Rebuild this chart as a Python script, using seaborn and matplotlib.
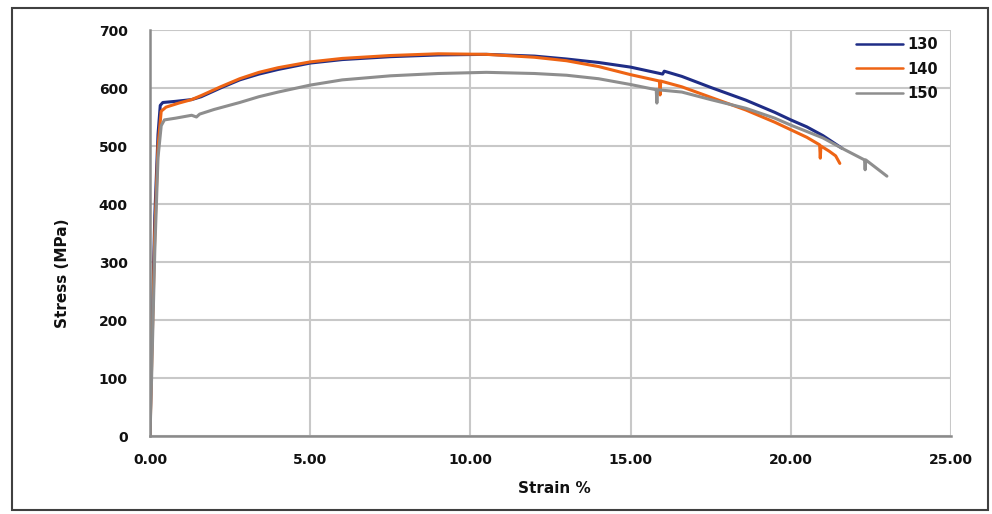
import pandas as pd
import matplotlib.pyplot as plt
import seaborn as sns
from matplotlib.patches import Rectangle

# Strain (%) and stress (MPa)
strain_130 = [0, 0.05, 0.15, 0.25, 0.32, 0.4, 0.8, 1.3, 1.6, 2.2, 2.8, 3.4, 4.0, 5.0, 6.0, 7.5, 9.0,
              10.5, 12.0, 13.0, 14.0, 15.0, 16.0, 16.05, 16.6, 17.5, 18.6, 19.5, 20.0, 20.5,
              21.0, 21.6]
stress_130 = [0, 150, 380, 520, 570, 575, 577, 580, 585, 600, 614, 624, 632, 643, 649, 654, 657,
              658, 655, 650, 644, 636, 624, 629, 620, 601, 579, 558, 545, 533,
              518, 496]

strain_140 = [0, 0.05, 0.15, 0.25, 0.35, 0.5, 0.9, 1.3, 1.6, 2.2, 2.8, 3.4, 4.0, 5.0, 6.0, 7.5, 9.0,
              10.5, 12.0, 13.0, 14.0, 15.0, 15.9, 15.92, 15.94, 16.6, 17.5, 18.6, 19.5, 20.0,
              20.5, 20.9, 20.92, 20.94, 21.2, 21.4, 21.53]
stress_140 = [0, 120, 350, 500, 560, 567, 574, 580, 587, 602, 616, 627, 635, 645, 651, 656, 659,
              658, 653, 647, 637, 623, 612, 588, 612, 602, 584, 562, 541, 528,
              515, 502, 479, 500, 491, 483, 470]

strain_150 = [0, 0.05, 0.15, 0.25, 0.35, 0.45, 0.8, 1.3, 1.45, 1.55, 2.0, 2.8, 3.4, 4.0, 5.0, 6.0,
              7.5, 9.0, 10.5, 12.0, 13.0, 14.0, 15.0, 15.8, 15.82, 15.84, 16.6, 17.5, 18.6,
              19.5, 20.0, 21.0, 21.6, 22.3, 22.32, 22.34, 23.0]
stress_150 = [0, 100, 320, 480, 535, 545, 548, 553, 550, 555, 563, 575, 585, 593, 605, 614,
              621, 625, 627, 625, 622, 616, 606, 597, 574, 597, 593, 580, 565,
              548, 536, 514, 496, 476, 459, 476, 448]

series = ["130", "140", "150"]
colors = ["#1F2D86", "#EE6414", "#8E8E8E"]

frames = []
for name, xs, ys in zip(series, [strain_130, strain_140, strain_150],
                        [stress_130, stress_140, stress_150]):
    frames.append(pd.DataFrame({"Strain": xs, "Stress": ys, "Sample": name}))
data = pd.concat(frames, ignore_index=True)

sns.set_style("white")
plt.rcParams["text.color"] = "#111111"
plt.rcParams["axes.labelcolor"] = "#111111"
plt.rcParams["xtick.color"] = "#111111"
plt.rcParams["ytick.color"] = "#111111"

fig = plt.figure(figsize=(9.92, 5.14), dpi=100)
ax = fig.add_axes([150 / 992, 78 / 514, 801 / 992, 406 / 514])

sns.lineplot(data=data, x="Strain", y="Stress", hue="Sample", palette=colors,
             sort=False, estimator=None, units="Sample", linewidth=2.2, ax=ax)

ax.set_xlim(0, 25)
ax.set_ylim(0, 700)
ax.set_xticks([0, 5, 10, 15, 20, 25])
ax.set_xticklabels([f"{v:.2f}" for v in [0, 5, 10, 15, 20, 25]])
ax.set_yticks(range(0, 701, 100))
ax.grid(True, color="#C8C8C8", linewidth=1.5)
ax.set_axisbelow(True)
for side in ["top", "right"]:
    ax.spines[side].set_visible(False)
for side in ["left", "bottom"]:
    ax.spines[side].set_color("#8A8A8A")
    ax.spines[side].set_linewidth(1.8)
ax.tick_params(axis="x", length=0, pad=12, labelsize=10)
ax.tick_params(axis="y", length=0, pad=16, labelsize=10)
for lab in ax.get_xticklabels() + ax.get_yticklabels():
    lab.set_fontweight("bold")

ax.set_xlabel("Strain %", fontsize=11, fontweight="bold")
ax.set_ylabel("Stress (MPa)", fontsize=11, fontweight="bold")
ax.xaxis.set_label_coords(0.505, -0.11)
ax.yaxis.set_label_coords(-0.10, 0.40)

leg = ax.legend(loc="upper right", bbox_to_anchor=(1.0, 1.015), frameon=False,
                handlelength=3.2, handletextpad=0.3, labelspacing=0.65,
                prop={"weight": "bold", "size": 10.5})
for line in leg.get_lines():
    line.set_linewidth(1.8)

fig.patches.append(Rectangle((12 / 992, 4 / 514), 976 / 992, 502 / 514,
                             transform=fig.transFigure, fill=False,
                             edgecolor="#404040", linewidth=1.5))

plt.savefig("out.png", dpi=100)
